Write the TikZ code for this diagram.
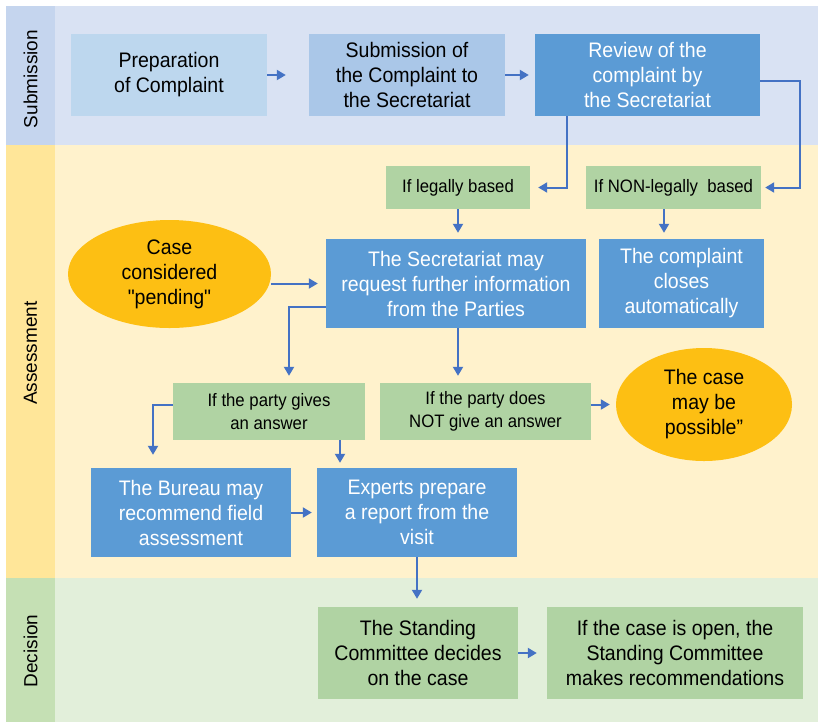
\documentclass[tikz,border=0pt]{standalone}
\usepackage{fontspec}
\setmainfont{Liberation Sans}[FakeStretch=0.93, Ligatures=TeXOff]
\newfontfamily\lanefont{Liberation Sans}
\usetikzlibrary{arrows.meta,shapes.geometric}

\definecolor{subbg}{HTML}{D9E2F3}
\definecolor{sublab}{HTML}{C5D5EE}
\definecolor{asbg}{HTML}{FFF2CC}
\definecolor{aslab}{HTML}{FFE699}
\definecolor{decbg}{HTML}{E2EFDA}
\definecolor{declab}{HTML}{C5E0B4}
\definecolor{paleblue}{HTML}{BDD7EE}
\definecolor{midblue}{HTML}{AAC7E8}
\definecolor{darkblue}{HTML}{5B9BD5}
\definecolor{stepgreen}{HTML}{B0D3A3}
\definecolor{caseorange}{HTML}{FDBF13}
\definecolor{flowblue}{HTML}{4472C4}

\tikzset{
    box/.style={rectangle, inner sep=0pt, align=center,
        font=\fontsize{21}{25}\selectfont},
    lightbox/.style={box, fill=paleblue, text=black},
    subbox/.style={box, fill=midblue, text=black},
    bluebox/.style={box, fill=darkblue, text=white},
    greenbox/.style={box, fill=stepgreen, text=black,
        font=\fontsize{18}{23}\selectfont},
    casebubble/.style={ellipse, inner sep=0pt, fill=caseorange, text=black,
        align=center, font=\fontsize{21}{25}\selectfont},
    lanelabel/.style={rotate=90, font=\lanefont\fontsize{19}{22}\selectfont},
    flow/.style={draw=flowblue, line width=2pt, shorten >=6pt,
        -{Triangle[length=9pt,width=10pt]}, color=flowblue},
}

\begin{document}
\begin{tikzpicture}[x=1pt, y=-1pt]
    \useasboundingbox (0,0) rectangle (818,724);

    % swim lanes
    \fill[subbg]  (6,6)   rectangle (818,145);
    \fill[sublab] (6,6)   rectangle (55,145);
    \fill[asbg]   (6,145) rectangle (818,578);
    \fill[aslab]  (6,145) rectangle (55,578);
    \fill[decbg]  (6,578) rectangle (818,722);
    \fill[declab] (6,578) rectangle (55,722);

    \node[lanelabel] (lanesub) at (30.5,79)  {Submission};
    \node[lanelabel] (laneass) at (30.5,353) {Assessment};
    \node[lanelabel] (lanedec) at (30.5,651) {Decision};

    % submission
    \node[lightbox, minimum width=196pt, minimum height=82pt] (prep) at (169,75)
        {Preparation\\of Complaint};
    \node[subbox, minimum width=196pt, minimum height=82pt] (submit) at (407,75)
        {Submission of\\the Complaint to\\the Secretariat};
    \node[bluebox, minimum width=225pt, minimum height=82pt] (review) at (647.5,75)
        {Review of the\\complaint by\\the Secretariat};

    % assessment
    \node[greenbox, minimum width=144pt, minimum height=43pt] (legal) at (458,187.5)
        {If legally based};
    \node[greenbox, minimum width=175pt, minimum height=43pt] (nonlegal) at (673.5,187.5)
        {If NON-legally\ \ based};
    \node[casebubble, minimum width=203pt, minimum height=108pt] (pending) at (169.5,274)
        {Case\\considered\\"pending"};
    \node[bluebox, minimum width=260pt, minimum height=89pt] (request) at (456,283.5)
        {The Secretariat may\\request further information\\from the Parties};
    \node[bluebox, minimum width=165pt, minimum height=89pt] (closes) at (681.5,283.5)
        {The complaint\\closes\\automatically};
    \node[greenbox, minimum width=192pt, minimum height=57pt] (gives) at (269,411.5)
        {If the party gives\\an answer};
    \node[greenbox, minimum width=211pt, minimum height=57pt] (notgive) at (485.5,411.5)
        {If the party does\\NOT give an answer};
    \node[casebubble, minimum width=176pt, minimum height=113pt] (possible) at (704,404.5)
        {The case\\may be\\possible”};
    \node[bluebox, minimum width=200pt, minimum height=89pt] (bureau) at (191,512.5)
        {The Bureau may\\recommend field\\assessment};
    \node[bluebox, minimum width=200pt, minimum height=89pt] (experts) at (417,512.5)
        {Experts prepare\\a report from the\\visit};

    % decision
    \node[greenbox, font=\fontsize{21}{25}\selectfont,
        minimum width=200pt, minimum height=92pt] (standing) at (418,653)
        {The Standing\\Committee decides\\on the case};
    \node[greenbox, font=\fontsize{21}{25}\selectfont,
        minimum width=256pt, minimum height=92pt] (recommend) at (675,653)
        {If the case is open, the\\Standing Committee\\makes recommendations};

    % connectors
    \draw[flow, shorten >=23pt] (prep) -- (submit);
    \draw[flow] (submit) -- (review);
    \draw[flow, shorten >=8pt] ([xshift=-80.5pt]review.south) |- (legal.east);
    \draw[flow, shorten >=4pt] ([yshift=-6pt]review.east) -- ++(40,0) |- (nonlegal.east);
    \draw[flow] (legal.south) -- (legal.south |- request.north);
    \draw[flow] ([xshift=-9.5pt]nonlegal.south) -- ([xshift=-9.5pt]nonlegal.south |- closes.north);
    \draw[flow, shorten >=8pt] (pending.east |- request.west) -- (request.west);
    \draw[flow, shorten >=7pt] ([yshift=-23.5pt]request.west) -| ([xshift=20pt]gives.north);
    \draw[flow, shorten >=7pt] ([xshift=2pt]request.south) -- ([xshift=2pt]request.south |- notgive.north);
    \draw[flow] (notgive.east |- possible.west) -- (possible.west);
    \draw[flow, shorten >=13pt] ([yshift=6.5pt]gives.west) -| ([xshift=-38pt]bureau.north);
    \draw[flow, shorten >=5pt] ([xshift=71pt]gives.south) -- ([xshift=71pt]gives.south |- experts.north);
    \draw[flow, shorten >=5pt] (bureau) -- (experts);
    \draw[flow, shorten >=8pt] (experts) -- (experts.south |- standing.north);
    \draw[flow, shorten >=10pt] (standing) -- (recommend);
\end{tikzpicture}
\end{document}
